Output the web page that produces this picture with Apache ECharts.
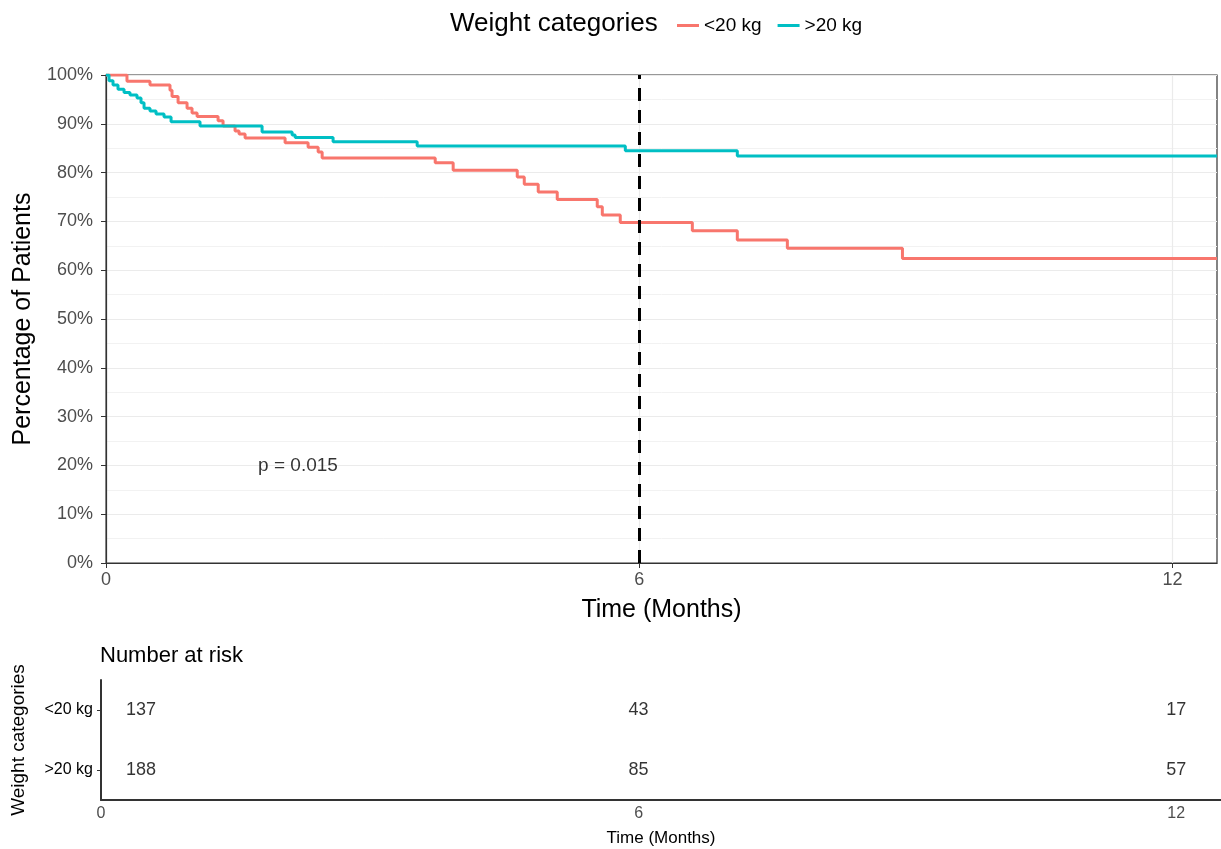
<!DOCTYPE html>
<html>
<head>
<meta charset="utf-8">
<title>Survival by weight category</title>
<script src="https://cdn.jsdelivr.net/npm/echarts@6/dist/echarts.min.js"></script>
<style>
  html, body { margin: 0; padding: 0; background: #fff; }
  #chart { width: 1221px; height: 849px; }
</style>
</head>
<body>
<div id="chart"></div>
<script>
// Kaplan-Meier steps: [time in months, % of patients remaining after that time]
const under20Steps = [
  [0, 100], [0.236, 98.7], [0.495, 97.95], [0.72, 96.9], [0.743, 95.6],
  [0.811, 94.3], [0.912, 93.2], [0.968, 92.2], [1.025, 91.5], [1.261, 90.6],
  [1.317, 89.55], [1.452, 88.5], [1.497, 87.9], [1.565, 87.1], [2.015, 86.1],
  [2.274, 85.2], [2.387, 84.2], [2.432, 83.0], [3.704, 82.0], [3.906, 80.5],
  [4.627, 79.1], [4.706, 77.6], [4.863, 76.0], [5.077, 74.5], [5.527, 73.0],
  [5.584, 71.3], [5.786, 69.8], [6.597, 68.1], [7.103, 66.2], [7.666, 64.5],
  [8.961, 62.4], [12.5, 62.4]
];
const over20Steps = [
  [0, 100], [0.034, 98.8], [0.079, 97.95], [0.135, 97.1], [0.203, 96.4],
  [0.27, 95.9], [0.349, 95.3], [0.394, 94.3], [0.428, 93.2], [0.495, 92.6],
  [0.563, 92.0], [0.653, 91.4], [0.732, 90.4], [1.058, 89.55], [1.756, 88.3],
  [2.094, 87.7], [2.128, 87.2], [2.555, 86.3], [3.501, 85.45], [5.843, 84.5],
  [7.103, 83.4], [12.5, 83.4]
];

const groupNames = ['<20 kg', '>20 kg'];
const groupColors = ['#F8766D', '#00BFC4'];

const timeTicks = [0, 6, 12];
const landmarkMonth = 6;

const pValueText = 'p = 0.015';
const pValuePos = [2.16, 20];

// Number at risk at months 0, 6 and 12
const riskTimes = [0, 6, 12];
const riskUnder20 = [137, 43, 17];
const riskOver20 = [188, 85, 57];

const chart = echarts.init(document.getElementById('chart'));
const FONT = 'Liberation Sans, Arial, Helvetica, sans-serif';

const riskPoints = [];
riskTimes.forEach((t, i) => {
  riskPoints.push({ value: [t, groupNames[0], riskUnder20[i]] });
  riskPoints.push({ value: [t, groupNames[1], riskOver20[i]] });
});

const option = {
  backgroundColor: '#ffffff',
  textStyle: { fontFamily: FONT },
  animation: false,
  title: {
    text: 'Weight categories',
    left: 445, top: 6,
    textStyle: { fontFamily: FONT, fontSize: 26, fontWeight: 'normal', color: '#000' }
  },
  legend: {
    data: groupNames,
    left: 672, top: 11,
    icon: 'rect',
    itemWidth: 22, itemHeight: 3,
    itemGap: 16,
    textStyle: { fontFamily: FONT, fontSize: 19, color: '#000' }
  },
  grid: [
    { left: 106, right: 4, top: 75, height: 488, show: true,
      outerBoundsMode: 'none', containLabel: false,
      borderColor: '#333', borderWidth: 1.2, backgroundColor: '#fff' },
    { left: 101, right: 0, top: 680, height: 120,
      outerBoundsMode: 'none', containLabel: false }
  ],
  xAxis: [
    {
      gridIndex: 0, type: 'value', min: 0, max: 12.5, interval: 3,
      name: 'Time (Months)', nameLocation: 'middle', nameGap: 35,
      nameTextStyle: { fontFamily: FONT, fontSize: 25, color: '#000' },
      axisLine: { show: true, lineStyle: { color: '#333', width: 1.2 } },
      axisTick: { show: true, customValues: timeTicks, length: 5, lineStyle: { color: '#333' } },
      axisLabel: { customValues: timeTicks, fontSize: 18, color: '#4d4d4d', margin: 8 },
      splitLine: { show: true, lineStyle: { color: '#ebebeb', width: 1.2 } }
    },
    {
      gridIndex: 1, type: 'value', min: 0, max: 12.5, interval: 6,
      name: 'Time (Months)', nameLocation: 'middle', nameGap: 30,
      nameTextStyle: { fontFamily: FONT, fontSize: 17, color: '#000' },
      axisLine: { show: true, lineStyle: { color: '#333', width: 2 } },
      axisTick: { show: false },
      axisLabel: { customValues: timeTicks, fontSize: 16, color: '#4d4d4d', margin: 6 },
      splitLine: { show: false }
    }
  ],
  yAxis: [
    {
      gridIndex: 0, type: 'value', min: 0, max: 100, interval: 10,
      name: 'Percentage of Patients', nameLocation: 'middle', nameGap: 70, nameRotate: 90,
      nameTextStyle: { fontFamily: FONT, fontSize: 25, color: '#000' },
      axisLine: { show: true, lineStyle: { color: '#333', width: 1.2 } },
      axisTick: { show: true, length: 5, lineStyle: { color: '#333' } },
      axisLabel: { formatter: '{value}%', fontSize: 18, color: '#4d4d4d', margin: 13 },
      splitLine: { show: true, lineStyle: { color: '#ebebeb', width: 1.2 } },
      minorTick: { show: false, splitNumber: 2 },
      minorSplitLine: { show: true, lineStyle: { color: '#f2f2f2', width: 1 } }
    },
    {
      gridIndex: 1, type: 'category', data: [groupNames[1], groupNames[0]],
      name: 'Weight categories', nameLocation: 'middle', nameGap: 73, nameRotate: 90,
      nameTextStyle: { fontFamily: FONT, fontSize: 19, color: '#000' },
      axisLine: { show: true, lineStyle: { color: '#333', width: 2 } },
      axisTick: { show: true, alignWithLabel: true, length: 4, lineStyle: { color: '#333' } },
      axisLabel: { fontSize: 16, color: '#000', margin: 8 },
      splitLine: { show: false }
    }
  ],
  graphic: [
    {
      type: 'text', left: 100, top: 645,
      style: { text: 'Number at risk', fontFamily: FONT, fontSize: 22, fill: '#000' }
    }
  ],
  series: [
    {
      name: groupNames[0], type: 'line', step: 'end',
      xAxisIndex: 0, yAxisIndex: 0,
      data: under20Steps, showSymbol: false, symbol: 'none',
      lineStyle: { color: groupColors[0], width: 3 },
      itemStyle: { color: groupColors[0] },
      z: 3
    },
    {
      name: groupNames[1], type: 'line', step: 'end',
      xAxisIndex: 0, yAxisIndex: 0,
      data: over20Steps, showSymbol: false, symbol: 'none',
      lineStyle: { color: groupColors[1], width: 3 },
      itemStyle: { color: groupColors[1] },
      z: 3,
      markLine: {
        silent: true, symbol: 'none', animation: false,
        label: { show: false },
        lineStyle: { color: '#000', width: 3, type: [13, 9] },
        data: [{ xAxis: landmarkMonth }],
        z: 5
      }
    },
    {
      type: 'scatter', xAxisIndex: 0, yAxisIndex: 0,
      data: [pValuePos], symbolSize: 0, silent: true,
      label: {
        show: true, position: 'inside', formatter: pValueText,
        fontFamily: FONT, fontSize: 19, color: '#000'
      }
    },
    {
      type: 'scatter', xAxisIndex: 1, yAxisIndex: 1,
      data: riskPoints, symbolSize: 0, silent: true,
      label: {
        show: true, position: 'inside',
        formatter: p => String(p.value[2]),
        fontFamily: FONT, fontSize: 18, color: '#000'
      },
      labelLayout: p => (p.dataIndex < 2 ? { dx: 40 } : {})
    }
  ]
};

chart.setOption(option);
</script>
</body>
</html>
